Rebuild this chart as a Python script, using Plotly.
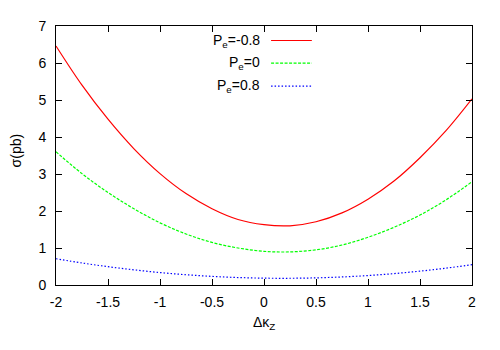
import plotly.graph_objects as go

# delta kappa_Z values and cross sections (pb)
dkz = [-2.0, -1.75, -1.5, -1.25, -1.0, -0.75, -0.5, -0.25, 0.0,
       0.25, 0.5, 0.75, 1.0, 1.25, 1.5, 1.75, 2.0]
sigma_pm08 = [6.46, 5.40, 4.48, 3.68, 3.01, 2.47, 2.06, 1.77, 1.63,
              1.60, 1.71, 1.95, 2.32, 2.81, 3.44, 4.17, 5.03]
sigma_p0 = [3.60, 3.01, 2.50, 2.06, 1.68, 1.38, 1.15, 1.00, 0.91,
            0.895, 0.95, 1.08, 1.29, 1.56, 1.89, 2.30, 2.79]
sigma_pp08 = [0.71, 0.595, 0.495, 0.41, 0.336, 0.277, 0.233, 0.202, 0.185,
              0.182, 0.193, 0.217, 0.256, 0.308, 0.375, 0.455, 0.55]

labels = ["P<sub>e</sub>=-0.8", "P<sub>e</sub>=0", "P<sub>e</sub>=0.8"]
colors = ["#ff0000", "#00ff00", "#0000ff"]
dashes = ["solid", "3px,1.5px", "1.5px,2px"]
series = [sigma_pm08, sigma_p0, sigma_pp08]

FONT = "Liberation Sans, Arial, Helvetica, sans-serif"

fig = go.Figure()
for ys, col, dash in zip(series, colors, dashes):
    fig.add_trace(go.Scatter(
        x=dkz, y=ys, mode="lines",
        line=dict(color=col, width=1.2, dash=dash, shape="spline", smoothing=1.0),
        showlegend=False,
    ))

# gnuplot-style key: label on the left, line sample on the right
key_rows = [0.944, 0.857, 0.768]
for lab, col, dash, yk in zip(labels, colors, dashes, key_rows):
    fig.add_annotation(x=0.495, y=yk, xref="paper", yref="paper", text=lab,
                       showarrow=False, xanchor="right", yanchor="middle",
                       font=dict(size=14, color="black", family=FONT))
    fig.add_shape(type="line", xref="paper", yref="paper",
                  x0=0.517, x1=0.615, y0=yk, y1=yk,
                  line=dict(color=col, width=1.2, dash=dash))

axis_common = dict(
    showline=True, linecolor="black", linewidth=1, mirror="ticks",
    ticks="inside", ticklen=6, tickcolor="black", tickwidth=1,
    showgrid=False, zeroline=False,
    tickfont=dict(size=14, color="black", family=FONT),
)

fig.update_xaxes(range=[-2, 2], tickvals=[-2, -1.5, -1, -0.5, 0, 0.5, 1, 1.5, 2],
                 ticktext=["-2", "-1.5", "-1", "-0.5", "0", "0.5", "1", "1.5", "2"],
                 ticklabelstandoff=4, **axis_common)
fig.update_yaxes(range=[0, 7], dtick=1, ticklabelstandoff=6, **axis_common)

fig.add_annotation(x=0.5, y=-0.145, xref="paper", yref="paper",
                   text="Δκ<sub>Z</sub>", showarrow=False, yanchor="middle",
                   font=dict(size=14, color="black", family=FONT))
fig.add_annotation(x=-0.096, y=0.52, xref="paper", yref="paper",
                   text="σ(pb)", showarrow=False, textangle=-90,
                   xanchor="center", yanchor="middle",
                   font=dict(size=14, color="black", family=FONT))

# page body adds an 8px margin, so the figure is shrunk to fit the window
fig.update_layout(
    width=492, height=342,
    margin=dict(l=48, r=28, t=10, b=65),
    plot_bgcolor="white", paper_bgcolor="white",
    font=dict(family=FONT, color="black"),
)

fig.write_html("out.html")
